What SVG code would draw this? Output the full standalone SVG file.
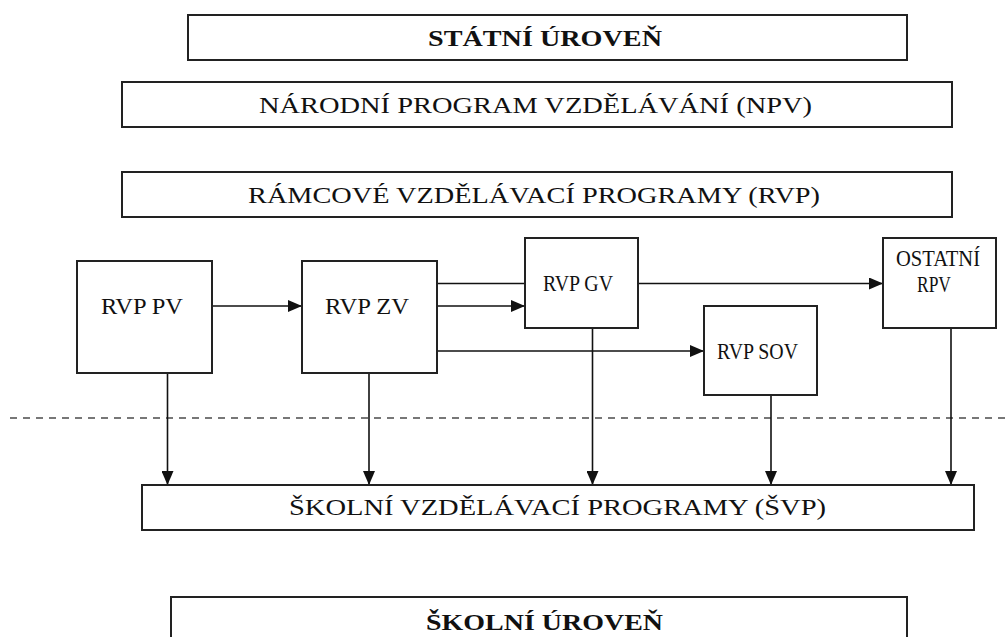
<svg xmlns="http://www.w3.org/2000/svg" width="1007" height="637" viewBox="0 0 1007 637">
<defs>
<style>
.box{fill:#fff;stroke:#222;stroke-width:2}
.t{font-family:"Liberation Serif","Times New Roman",serif;font-size:23px;fill:#111}
.tb{font-family:"Liberation Serif","Times New Roman",serif;font-size:23px;font-weight:bold;fill:#111}
.ln{stroke:#111;stroke-width:1.6;fill:none}
.arr{stroke:#111;stroke-width:1.6;fill:none;marker-end:url(#ah)}
.dash{stroke:#777;stroke-width:2;stroke-dasharray:7 6;fill:none}
</style>
<marker id="ah" viewBox="0 0 14 12" refX="14" refY="6" markerWidth="14" markerHeight="12" markerUnits="userSpaceOnUse" orient="auto">
<path d="M0,0 L14,6 L0,12 Z" fill="#111"/>
</marker>
</defs>
<rect width="1007" height="637" fill="#fff"/>
<g id="statni">
<rect class="box" x="188" y="15" width="719" height="45"/>
<text class="tb" x="428" y="46" textLength="234" lengthAdjust="spacingAndGlyphs">STÁTNÍ  ÚROVEŇ</text>
</g>
<g id="npv">
<rect class="box" x="122" y="82" width="830" height="45"/>
<text class="t" x="259" y="113" textLength="553" lengthAdjust="spacingAndGlyphs">NÁRODNÍ  PROGRAM  VZDĚLÁVÁNÍ  (NPV)</text>
</g>
<g id="rvp">
<rect class="box" x="122" y="172" width="830" height="45"/>
<text class="t" x="248" y="203" textLength="572" lengthAdjust="spacingAndGlyphs">RÁMCOVÉ  VZDĚLÁVACÍ  PROGRAMY (RVP)</text>
</g>
<line class="dash" x1="10" y1="418" x2="1007" y2="418"/>
<g id="connectors">
<line class="arr" x1="212" y1="306" x2="302" y2="306"/>
<line class="ln" x1="437" y1="283.5" x2="525" y2="283.5"/>
<line class="arr" x1="437" y1="306" x2="525" y2="306"/>
<line class="arr" x1="437" y1="351" x2="704" y2="351"/>
<line class="arr" x1="638" y1="283.5" x2="883" y2="283.5"/>
<line class="arr" x1="167.5" y1="373" x2="167.5" y2="485"/>
<line class="arr" x1="369" y1="373" x2="369" y2="485"/>
<line class="arr" x1="592.5" y1="328" x2="592.5" y2="485"/>
<line class="arr" x1="771" y1="395" x2="771" y2="485"/>
<line class="arr" x1="951" y1="328" x2="951" y2="485"/>
</g>
<g id="rvp-pv">
<rect class="box" x="77" y="261" width="135" height="112"/>
<text class="t" x="101" y="314" textLength="82" lengthAdjust="spacingAndGlyphs">RVP PV</text>
</g>
<g id="rvp-zv">
<rect class="box" x="302" y="261" width="135" height="112"/>
<text class="t" x="325" y="314" textLength="84" lengthAdjust="spacingAndGlyphs">RVP ZV</text>
</g>
<g id="rvp-gv">
<rect class="box" x="525" y="238" width="113" height="90"/>
<text class="t" x="543" y="291" font-size="21" textLength="70" lengthAdjust="spacingAndGlyphs">RVP GV</text>
</g>
<g id="rvp-sov">
<rect class="box" x="704" y="306" width="113" height="89"/>
<text class="t" x="717" y="359" font-size="21" textLength="81" lengthAdjust="spacingAndGlyphs">RVP SOV</text>
</g>
<g id="ostatni">
<rect class="box" x="883" y="238" width="113" height="90"/>
<text class="t" x="896" y="266" font-size="20" textLength="84" lengthAdjust="spacingAndGlyphs">OSTATNÍ</text>
<text class="t" x="917" y="292" font-size="20" textLength="34" lengthAdjust="spacingAndGlyphs">RPV</text>
</g>
<g id="svp">
<rect class="box" x="142" y="485" width="832" height="45"/>
<text class="t" x="289" y="515" textLength="537" lengthAdjust="spacingAndGlyphs">ŠKOLNÍ  VZDĚLÁVACÍ  PROGRAMY (ŠVP)</text>
</g>
<g id="skolni">
<rect class="box" x="171" y="597" width="736" height="60"/>
<text class="tb" x="426" y="630" textLength="237" lengthAdjust="spacingAndGlyphs">ŠKOLNÍ  ÚROVEŇ</text>
</g>
</svg>
